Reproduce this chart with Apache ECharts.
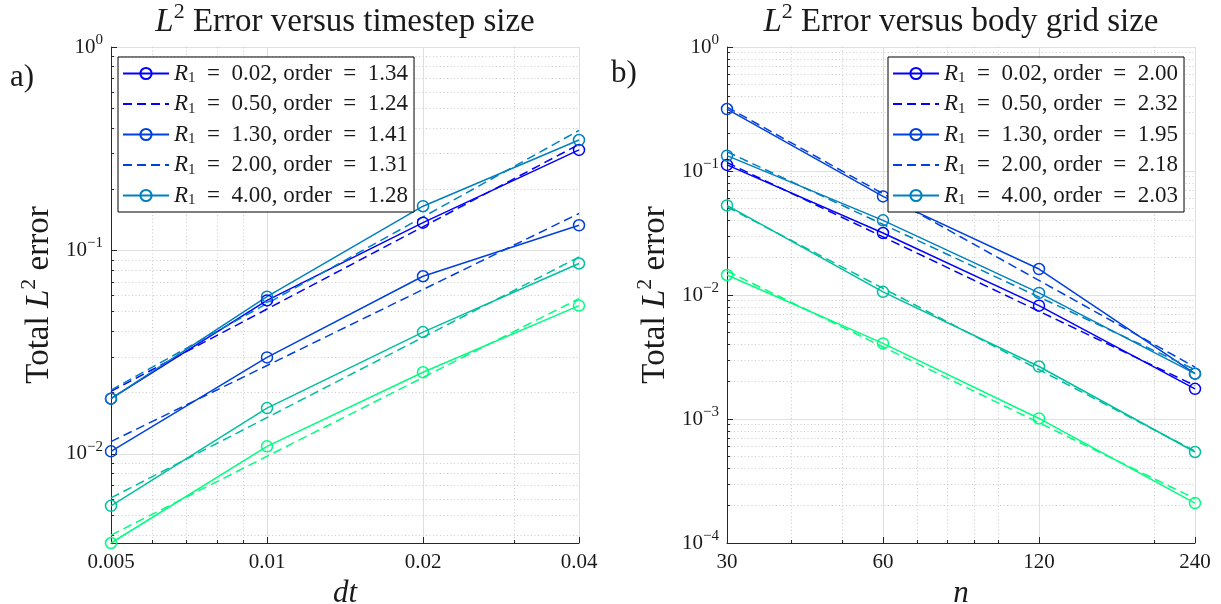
<!DOCTYPE html>
<html><head><meta charset="utf-8">
<script src="https://cdn.jsdelivr.net/npm/echarts@6/dist/echarts.min.js"></script>
<style>html,body{margin:0;padding:0;background:#fff}#c{width:1221px;height:604px}</style>
</head><body><div id="c"></div>
<script>
// ---------- data ----------
const dtValues = [0.005, 0.01, 0.02, 0.04];
const nValues = [30, 60, 120, 240];
const dtTickLabels = ['0.005', '0.01', '0.02', '0.04'];
const nTickLabels = ['30', '60', '120', '240'];
const legendR1 = ['0.02', '0.50', '1.30', '2.00', '4.00'];
const legendOrderDt = ['1.34', '1.24', '1.41', '1.31', '1.28'];
const legendOrderN = ['2.00', '2.32', '1.95', '2.18', '2.03'];

// panel a) error vs dt, per curve (colour index 1..5)
const dtErr1 = [0.0187, 0.0568, 0.137, 0.312];
const dtErr2 = [0.0103, 0.0298, 0.0747, 0.133];
const dtErr3 = [0.0187, 0.0593, 0.165, 0.349];
const dtErr4 = [0.00556, 0.0168, 0.0397, 0.0863];
const dtErr5 = [0.00365, 0.0109, 0.0252, 0.0536];
// dashed fit lines, values at dt = 0.005 and dt = 0.04
const dtFit1 = [0.0203, 0.332];
const dtFit2 = [0.0115, 0.152];
const dtFit3 = [0.0206, 0.389];
const dtFit4 = [0.00608, 0.0929];
const dtFit5 = [0.00399, 0.058];

// panel b) error vs n
const nErr1 = [0.112, 0.0316, 0.0082, 0.00175];
const nErr2 = [0.316, 0.0624, 0.0162, 0.00232];
const nErr3 = [0.133, 0.040, 0.0104, 0.00232];
const nErr4 = [0.0528, 0.0106, 0.00265, 0.000542];
const nErr5 = [0.0145, 0.00407, 0.00101, 0.00021];
// dashed fit lines, values at n = 30 and n = 240
const nFit1 = [0.117, 0.00186];
const nFit2 = [0.328, 0.00262];
const nFit3 = [0.143, 0.0025];
const nFit4 = [0.0514, 0.000551];
const nFit5 = [0.0156, 0.000228];

const dtMinor = [0.006, 0.007, 0.008, 0.009, 0.03];
const nMinor = [40, 50, 70, 80, 90, 100, 200];
const yMajorA = [0.01, 0.1, 1];
const yMajorB = [0.0001, 0.001, 0.01, 0.1, 1];
const yMinorA = [0.004, 0.005, 0.006, 0.007, 0.008, 0.009, 0.02, 0.03, 0.04, 0.05, 0.06, 0.07, 0.08, 0.09, 0.2, 0.3, 0.4, 0.5, 0.6, 0.7, 0.8, 0.9];
const yMinorB = [0.0002, 0.0003, 0.0004, 0.0005, 0.0006, 0.0007, 0.0008, 0.0009, 0.002, 0.003, 0.004, 0.005, 0.006, 0.007, 0.008, 0.009, 0.02, 0.03, 0.04, 0.05, 0.06, 0.07, 0.08, 0.09, 0.2, 0.3, 0.4, 0.5, 0.6, 0.7, 0.8, 0.9];
const yMinA = 0.00365, yMaxA = 1;
const yMinB = 0.0001, yMaxB = 1;

// ---------- style ----------
const FONT = "'Liberation Serif', 'DejaVu Serif', serif";
const INK = '#1a1a1a';
const AX = '#262626';
const colors = ['#0000ff', '#0040df', '#0080bf', '#00bf9f', '#00ff80'];
const GRID_A = {left: 111, top: 47, width: 468, height: 496};
const GRID_B = {left: 727, top: 47, width: 468, height: 496};
const EN = '\u2002';

function findLabel(ticks, labels, v) {
  for (let i = 0; i < ticks.length; i++) if (Math.abs(ticks[i] - v) / ticks[i] < 1e-6) return labels[i];
  return '';
}
function powLabel(v) {
  const e = Math.round(Math.log10(v));
  return '{b|10}{s|' + (e < 0 ? '\u2212' + (-e) : String(e)) + '}';
}
function majorX(gi, min, max, ticks, labels, name) {
  return {
    type: 'log', logBase: 10, gridIndex: gi, min: min, max: max, position: 'bottom',
    axisLine: {show: true, onZero: false, lineStyle: {color: AX, width: 1}},
    axisTick: {show: true, inside: true, length: 6, customValues: ticks, lineStyle: {color: AX, width: 1}},
    axisLabel: {show: true, customValues: ticks, margin: 9, color: INK, fontFamily: FONT, fontSize: 21,
      formatter: v => findLabel(ticks, labels, v)},
    splitLine: {show: true, lineStyle: {color: '#dfdfdf', width: 1}},
    minorTick: {show: false}, minorSplitLine: {show: false},
    name: name, nameLocation: 'middle', nameGap: 35,
    nameTextStyle: {fontFamily: FONT, fontSize: 31, fontStyle: 'italic', color: INK}
  };
}
function minorAxis(gi, min, max, ticks, pos) {
  return {
    type: 'log', logBase: 10, gridIndex: gi, min: min, max: max, position: pos,
    axisLine: {show: false, onZero: false},
    axisTick: {show: true, inside: true, length: 3, customValues: ticks, lineStyle: {color: AX, width: 1}},
    axisLabel: {show: false},
    splitLine: {show: true, lineStyle: {color: '#cbcbcb', width: 1, type: [1, 2.5]}},
    minorTick: {show: false}, minorSplitLine: {show: false}
  };
}
function majorY(gi, min, max, ticks) {
  return {
    type: 'log', logBase: 10, gridIndex: gi, min: min, max: max, position: 'left',
    axisLine: {show: true, onZero: false, lineStyle: {color: AX, width: 1}},
    axisTick: {show: true, inside: true, length: 6, customValues: ticks, lineStyle: {color: AX, width: 1}},
    axisLabel: {show: true, customValues: ticks, margin: 8, color: INK, fontFamily: FONT, fontSize: 21,
      formatter: v => powLabel(v),
      rich: {
        b: {fontFamily: FONT, fontSize: 21, color: INK, lineHeight: 22},
        s: {fontFamily: FONT, fontSize: 15, color: INK, lineHeight: 22, padding: [0, 0, 14, 0]}
      }},
    splitLine: {show: true, lineStyle: {color: '#dfdfdf', width: 1}},
    minorTick: {show: false}, minorSplitLine: {show: false},
    name: 'Total {i|L}{s|2} error', nameLocation: 'middle', nameGap: 55,
    nameTextStyle: {fontFamily: FONT, fontSize: 33, color: INK, lineHeight: 34,
      rich: {
        i: {fontFamily: FONT, fontSize: 33, fontStyle: 'italic', color: INK, lineHeight: 34},
        s: {fontFamily: FONT, fontSize: 22, color: INK, lineHeight: 34, padding: [0, 0, 20, 0]}
      }}
  };
}

function buildSeries(prefix, xs, errs, fits, R1s, orders, xi, yi) {
  const out = [];
  let s = 0;
  for (let k = 0; k < 5; k++) {
    const c = colors[k];
    const nameD = s < 5 ? R1s[s] + '|' + orders[s] : prefix + '-d' + k; s++;
    out.push({
      type: 'line', name: nameD, xAxisIndex: xi, yAxisIndex: yi,
      data: xs.map((x, i) => [x, errs[k][i]]),
      symbol: 'circle', symbolSize: 11, showSymbol: true,
      itemStyle: {color: 'rgba(255,255,255,0)', borderColor: c, borderWidth: 1.5},
      lineStyle: {color: c, width: 1.5, type: 'solid'},
      emphasis: {disabled: true}, silent: true, animation: false
    });
    const nameF = s < 5 ? R1s[s] + '|' + orders[s] : prefix + '-f' + k; s++;
    out.push({
      type: 'line', name: nameF, xAxisIndex: xi, yAxisIndex: yi,
      data: [[xs[0], fits[k][0]], [xs[xs.length - 1], fits[k][1]]],
      symbol: 'none', showSymbol: false,
      itemStyle: {color: 'rgba(255,255,255,0)', borderColor: 'rgba(255,255,255,0)', borderWidth: 0},
      lineStyle: {color: c, width: 1.5, type: [9, 5]},
      emphasis: {disabled: true}, silent: true, animation: false
    });
  }
  return out;
}
function legendCfg(left, R1s, orders) {
  return {
    orient: 'vertical', left: left, top: 57,
    data: R1s.map((r, i) => r + '|' + orders[i]),
    backgroundColor: '#fff', borderColor: '#000', borderWidth: 1, borderRadius: 0,
    padding: [4, 6, 4, 4], itemGap: 5.5, itemWidth: 46, itemHeight: 14,
    selectedMode: false,
    formatter: name => { const p = name.split('|'); return '{i|R}{sub|1}' + EN + '=' + EN + p[0] + ', order' + EN + '=' + EN + p[1]; },
    textStyle: {fontFamily: FONT, fontSize: 23, color: INK, lineHeight: 23,
      rich: {
        i: {fontFamily: FONT, fontSize: 23, fontStyle: 'italic', color: INK, lineHeight: 23},
        sub: {fontFamily: FONT, fontSize: 15, color: INK, lineHeight: 23, padding: [10, 0, 0, 0]}
      }}
  };
}

const titleRich = {
  i: {fontFamily: FONT, fontSize: 33, fontStyle: 'italic', fill: INK, lineHeight: 34},
  s: {fontFamily: FONT, fontSize: 22, fill: INK, lineHeight: 34, padding: [0, 0, 20, 0]},
  t: {fontFamily: FONT, fontSize: 33, fill: INK, lineHeight: 34}
};

const chart = echarts.init(document.getElementById('c'), null, {renderer: 'canvas'});
const option = {
  backgroundColor: '#fff',
  animation: false,
  grid: [
    Object.assign({containLabel: false, outerBoundsMode: 'none'}, GRID_A),
    Object.assign({containLabel: false, outerBoundsMode: 'none'}, GRID_B)
  ],
  xAxis: [
    majorX(0, dtValues[0], dtValues[3], dtValues, dtTickLabels, 'dt'),
    minorAxis(0, dtValues[0], dtValues[3], dtMinor, 'bottom'),
    majorX(1, nValues[0], nValues[3], nValues, nTickLabels, 'n'),
    minorAxis(1, nValues[0], nValues[3], nMinor, 'bottom')
  ],
  yAxis: [
    majorY(0, yMinA, yMaxA, yMajorA),
    minorAxis(0, yMinA, yMaxA, yMinorA, 'left'),
    majorY(1, yMinB, yMaxB, yMajorB),
    minorAxis(1, yMinB, yMaxB, yMinorB, 'left')
  ],
  legend: [
    legendCfg(118, legendR1, legendOrderDt),
    legendCfg(888, legendR1, legendOrderN)
  ],
  graphic: [
    {type: 'text', x: 345, y: 22, style: {text: '{i|L}{s|2}{t| Error versus timestep size}', align: 'center', verticalAlign: 'middle', rich: titleRich}},
    {type: 'text', x: 961, y: 22, style: {text: '{i|L}{s|2}{t| Error versus body grid size}', align: 'center', verticalAlign: 'middle', rich: titleRich}},
    {type: 'text', x: 22, y: 78, style: {text: 'a)', font: '31px ' + FONT, fill: INK, align: 'center', verticalAlign: 'middle'}},
    {type: 'text', x: 624, y: 74, style: {text: 'b)', font: '31px ' + FONT, fill: INK, align: 'center', verticalAlign: 'middle'}}
  ],
  series: [].concat(
    buildSeries('a', dtValues, [dtErr1, dtErr2, dtErr3, dtErr4, dtErr5], [dtFit1, dtFit2, dtFit3, dtFit4, dtFit5], legendR1, legendOrderDt, 0, 0),
    buildSeries('b', nValues, [nErr1, nErr2, nErr3, nErr4, nErr5], [nFit1, nFit2, nFit3, nFit4, nFit5], legendR1, legendOrderN, 2, 2)
  )
};
chart.setOption(option);
</script></body></html>
